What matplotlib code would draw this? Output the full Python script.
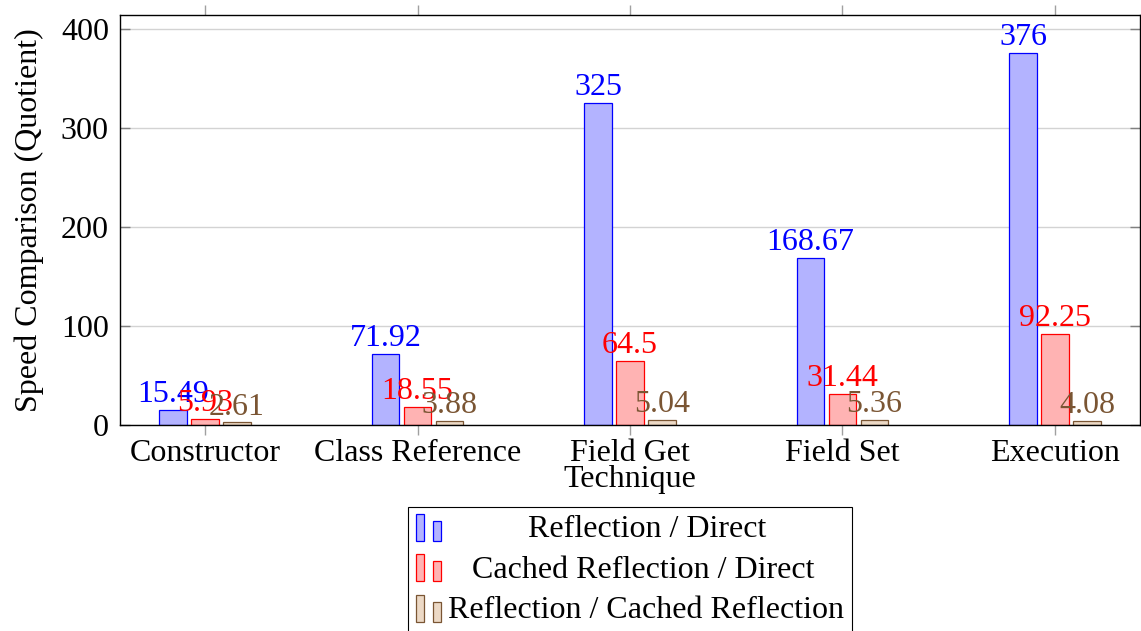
import matplotlib.pyplot as plt
import numpy as np
from matplotlib.legend_handler import HandlerBase
from matplotlib.patches import Rectangle

categories = ["Constructor", "Class Reference", "Field Get\nTechnique", "Field Set", "Execution"]
series_names = ["Reflection / Direct", "Cached Reflection / Direct", "Reflection / Cached Reflection"]
refl_direct = [15.49, 71.92, 325, 168.67, 376]
cached_direct = [5.93, 18.55, 64.5, 31.44, 92.25]
refl_cached = [2.61, 3.88, 5.04, 5.36, 4.08]
value_labels = [
    ["15.49", "71.92", "325", "168.67", "376"],
    ["5.93", "18.55", "64.5", "31.44", "92.25"],
    ["2.61", "3.88", "5.04", "5.36", "4.08"],
]
y_ticks = [0, 100, 200, 300, 400]

edge_colors = ["#0000ff", "#ff0000", "#7a5533"]
fill_colors = ["#b3b3ff", "#ffb3b3", "#ecd9c6"]
FS = 23


class TwoBarHandler(HandlerBase):
    # pgfplots-style ybar legend: two small bars
    def create_artists(self, legend, orig_handle, xdescent, ydescent,
                       width, height, fontsize, trans):
        w = width * 0.33
        fc = orig_handle.get_facecolor()
        ec = orig_handle.get_edgecolor()
        y0 = -ydescent - height * 0.15
        r1 = Rectangle((-xdescent, y0), w, height * 1.2,
                       facecolor=fc, edgecolor=ec, lw=0.9, transform=trans)
        r2 = Rectangle((-xdescent + width * 0.66, y0), w, height * 0.9,
                       facecolor=fc, edgecolor=ec, lw=0.9, transform=trans)
        return [r1, r2]


plt.rcParams["font.family"] = ["Liberation Serif", "DejaVu Serif"]

fig = plt.figure(figsize=(11.41, 6.31), dpi=100)
ax = fig.add_axes([120 / 1141, 1 - 425 / 631, 1020 / 1141, 410 / 631])

x = np.arange(len(categories))
offset = 0.15
width = 0.13
data = [refl_direct, cached_direct, refl_cached]
handles = []
for i, vals in enumerate(data):
    bars = ax.bar(x + (i - 1) * offset, vals, width, color=fill_colors[i],
                  edgecolor=edge_colors[i], linewidth=0.9, zorder=2,
                  label=series_names[i])
    handles.append(bars[0])
    for b, lab in zip(bars, value_labels[i]):
        ax.annotate(lab, (b.get_x() + b.get_width() / 2, b.get_height()),
                    xytext=(0, 0.5), textcoords="offset points",
                    ha="center", va="bottom", fontsize=FS,
                    color=edge_colors[i], zorder=3)

ax.set_xlim(-0.4, 4.4)
ax.set_ylim(0, 414)
ax.set_yticks(y_ticks)
ax.set_xticks(x)
ax.set_xticklabels(categories, fontsize=FS, linespacing=0.85)
ax.tick_params(axis="y", labelsize=FS, direction="in", length=7,
               color="#808080", right=True, width=1, pad=8)
ax.tick_params(axis="x", direction="out", length=7, color="#a0a0a0",
               top=True, width=1, pad=3)
ax.grid(axis="y", color="#d3d3d3", linewidth=1, zorder=0)
ax.set_axisbelow(True)
for s in ax.spines.values():
    s.set_color("black")
    s.set_linewidth(1)

ax.set_ylabel("Speed Comparison (Quotient)", fontsize=FS, labelpad=12)

# center legend labels like pgfplots: pad shorter ones with leading spaces
renderer = fig.canvas.get_renderer()


def text_width(s):
    t = fig.text(0, 0, s, fontsize=FS)
    w = t.get_window_extent(renderer).width
    t.remove()
    return w


widths = [text_width(s) for s in series_names]
space_w = text_width("a a") - text_width("aa")
max_w = max(widths)
legend_labels = [" " * int(round((max_w - w) / 2 / space_w)) + s
                 for s, w in zip(series_names, widths)]

leg = ax.legend(handles=handles, labels=legend_labels,
                handler_map={h: TwoBarHandler() for h in handles},
                loc="upper center", bbox_to_anchor=(0.5, -0.2),
                fontsize=FS, frameon=True, fancybox=False,
                edgecolor="black", framealpha=1, handlelength=0.8,
                handleheight=0.7, labelspacing=0.35, handletextpad=0.2,
                borderpad=0.25, borderaxespad=0)
leg.get_frame().set_linewidth(0.8)

fig.savefig("out.png", dpi=100)
